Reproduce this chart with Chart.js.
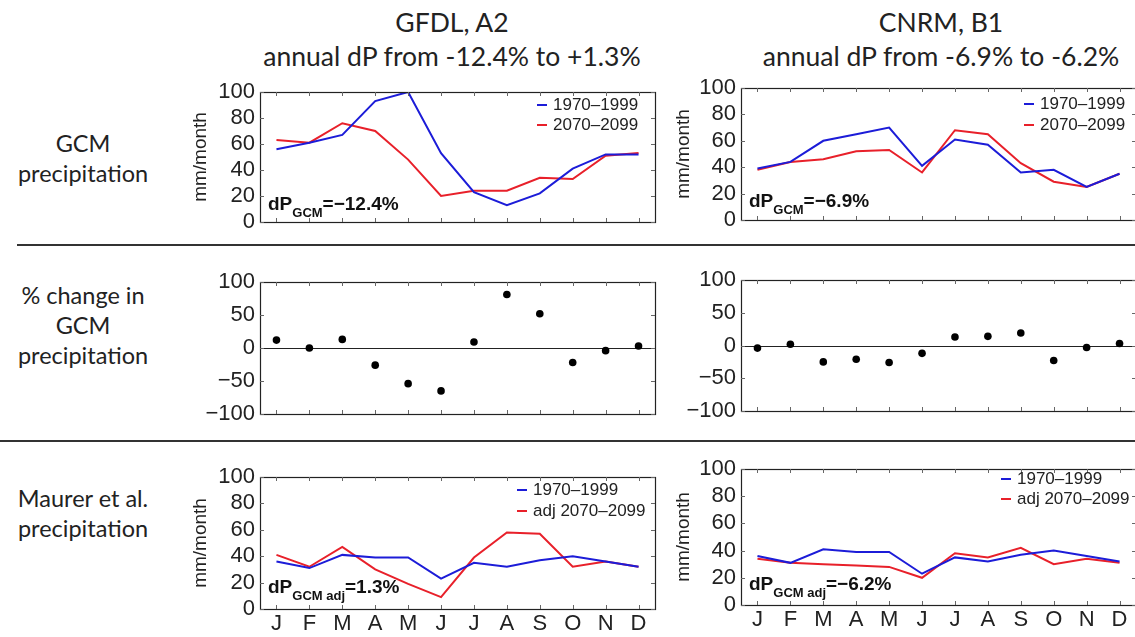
<!DOCTYPE html>
<html>
<head>
<meta charset="utf-8">
<script src="https://cdn.jsdelivr.net/npm/chart.js@4.4.1/dist/chart.umd.min.js"></script>
<style>
  body { margin: 0; width: 1135px; height: 637px; overflow: hidden; background: #fff; position: relative; font-family: Lato, sans-serif; color: #222; }
  .title { position: absolute; top: 5px; width: 480px; text-align: center; font-size: 26.5px; line-height: 34px; white-space: nowrap; }
  .row { position: absolute; left: -7px; width: 180px; text-align: center; font-size: 23.5px; line-height: 30px; white-space: nowrap; }
  .sep { position: absolute; height: 2px; background: #333; }
  canvas { position: absolute; }
</style>
</head>
<body>
<div class="title" style="left:212px">GFDL, A2<br>annual dP from -12.4% to +1.3%</div>
<div class="title" style="left:701px">CNRM, B1<br>annual dP from -6.9% to -6.2%</div>
<div class="row" style="top:128px">GCM<br>precipitation</div>
<div class="row" style="top:280px">% change in<br>GCM<br>precipitation</div>
<div class="row" style="top:483px">Maurer et al.<br>precipitation</div>
<div class="sep" style="left:17px; width:1118px; top:244px"></div>
<div class="sep" style="left:0px; width:1135px; top:440px"></div>

<canvas id="p1"></canvas>
<canvas id="p2"></canvas>
<canvas id="p3"></canvas>
<canvas id="p4"></canvas>
<canvas id="p5"></canvas>
<canvas id="p6"></canvas>

<script>
// === DATA ===
const months = ["J", "F", "M", "A", "M", "J", "J", "A", "S", "O", "N", "D"];
const gfdlHist = [56, 61, 67, 93, 100, 53, 23, 13, 22, 41, 52, 52];
const gfdlFut = [63, 61, 76, 70, 48, 20, 24, 24, 34, 33, 51, 53];
const cnrmHist = [39, 44, 60, 65, 70, 41, 61, 57, 36, 38, 25, 35];
const cnrmFut = [38, 44, 46, 52, 53, 36, 68, 65, 43, 29, 25, 35];
const gfdlChange = [12, 0, 13, -26, -54, -65, 9, 81, 52, -22, -4, 3];
const cnrmChange = [-4, 2, -25, -21, -26, -12, 13, 14, 19, -23, -3, 3];
const maurerHist = [36, 31, 41, 39, 39, 23, 35, 32, 37, 40, 36, 32];
const gfdlAdj = [41, 32, 47, 30, 19, 9, 39, 58, 57, 32, 36, 32];
const cnrmAdj = [34, 31, 30, 29, 28, 20, 38, 35, 42, 30, 34, 31];
const precipTicks = [0, 20, 40, 60, 80, 100];
const changeTicks = [-100, -50, 0, 50, 100];

const BLUE = "#1c1cd8";
const RED = "#e8202a";
const tickFont = { family: "Liberation Sans", size: 22, lineHeight: 1 };

// box, inner tick marks, zero line, legend and dP note
const frame = {
    id: "frame",
    beforeDatasetsDraw(chart, args, opts) {
        if (!opts.zero) return;
        const { ctx, chartArea: a, scales: { y } } = chart;
        const py = Math.round(y.getPixelForValue(0)) + 0.5;
        ctx.save();
        ctx.strokeStyle = "#222";
        ctx.lineWidth = 1.2;
        ctx.beginPath();
        ctx.moveTo(a.left, py);
        ctx.lineTo(a.right, py);
        ctx.stroke();
        ctx.restore();
    },
    afterDraw(chart, args, opts) {
        const { ctx, chartArea: a, scales: { x, y } } = chart;
        ctx.save();
        ctx.strokeStyle = "#222";
        ctx.lineWidth = 1.2;
        ctx.strokeRect(a.left + 0.5, a.top + 0.5, a.width, a.height);
        ctx.strokeStyle = "#666";
        ctx.lineWidth = 1;
        ctx.beginPath();
        x.ticks.forEach((t, i) => {
            const px = Math.round(x.getPixelForTick(i)) + 0.5;
            ctx.moveTo(px, a.bottom); ctx.lineTo(px, a.bottom - 4);
            ctx.moveTo(px, a.top); ctx.lineTo(px, a.top + 4);
        });
        y.ticks.forEach((t, i) => {
            const py = Math.round(y.getPixelForTick(i)) + 0.5;
            ctx.moveTo(a.left, py); ctx.lineTo(a.left + 4, py);
            ctx.moveTo(a.right, py); ctx.lineTo(a.right - 4, py);
        });
        ctx.stroke();

        if (opts.legend) {
            const tx = a.right + opts.legend.x;
            ctx.font = "17px 'Liberation Sans'";
            ctx.textBaseline = "middle";
            ctx.textAlign = "left";
            chart.data.datasets.forEach((ds, i) => {
                const ly = a.top + opts.legend.y[i];
                ctx.strokeStyle = ds.borderColor;
                ctx.lineWidth = 2;
                ctx.beginPath();
                ctx.moveTo(tx - 16, ly);
                ctx.lineTo(tx - 6, ly);
                ctx.stroke();
                ctx.fillStyle = "#222";
                ctx.fillText(ds.label, tx, ly);
            });
        }

        if (opts.note) {
            const n = opts.note;
            let nx = a.left + 8;
            const ny = a.bottom - n.y;
            ctx.fillStyle = "#111";
            ctx.textAlign = "left";
            ctx.textBaseline = "alphabetic";
            ctx.font = "bold 19px 'Liberation Sans'";
            ctx.fillText("dP", nx, ny);
            nx += ctx.measureText("dP").width;
            ctx.font = "bold 13px 'Liberation Sans'";
            ctx.fillText(n.sub, nx, ny + 7);
            nx += ctx.measureText(n.sub).width;
            ctx.font = "bold 19px 'Liberation Sans'";
            ctx.fillText(n.tail, nx, ny);
        }
        ctx.restore();
    },
};

function makePanel(id, plot, opt) {
    const xh = opt.months ? 28 : 14;
    const left = plot.l - 80, top = plot.t - 12;
    const w = plot.r - left + 4, h = plot.b + xh - top;
    const cv = document.getElementById(id);
    cv.width = w; cv.height = h;
    cv.style.left = left + "px";
    cv.style.top = top + "px";

    const datasets = opt.series.map((s) => opt.dots ? {
        label: s.label, data: s.data, showLine: false,
        pointRadius: 3.8, pointBackgroundColor: "#000", pointBorderWidth: 0,
    } : {
        label: s.label, data: s.data, borderColor: s.color, borderWidth: 2,
        pointRadius: 0, tension: 0,
    });

    return new Chart(cv.getContext("2d"), {
        type: "line",
        data: { labels: months, datasets: datasets },
        options: {
            responsive: false,
            animation: false,
            layout: { padding: { top: 12, right: 4, left: 0, bottom: 0 } },
            plugins: {
                legend: { display: false },
                tooltip: { enabled: false },
                frame: { legend: opt.legend, note: opt.note, zero: opt.dots },
            },
            scales: {
                x: {
                    offset: true,
                    grid: { display: false, drawTicks: false },
                    border: { display: false },
                    ticks: { display: !!opt.months, font: tickFont, color: "#222", padding: 4, autoSkip: false, maxRotation: 0 },
                    afterFit: (s) => { s.height = xh; },
                },
                y: {
                    min: opt.ticks[0],
                    max: opt.ticks[opt.ticks.length - 1],
                    afterBuildTicks: (s) => { s.ticks = opt.ticks.map((v) => ({ value: v })); },
                    grid: { display: false, drawTicks: false },
                    border: { display: false },
                    ticks: {
                        font: tickFont, color: "#222", padding: 5,
                        callback: (v) => String(v).replace("-", "\u2212"),
                    },
                    title: {
                        display: !!opt.ytitle, text: opt.ytitle, color: "#222",
                        font: { family: "Liberation Sans", size: 19 },
                        padding: { top: opt.titlePad, bottom: 0 },
                    },
                    afterFit: (s) => { s.width = 80; },
                },
            },
        },
        plugins: [frame],
    });
}

// === PANELS ===
makePanel("p1", { l: 260, r: 655, t: 88, b: 224 }, {
    series: [{ label: "1970\u20131999", data: gfdlHist, color: BLUE }, { label: "2070\u20132099", data: gfdlFut, color: RED }],
    ticks: precipTicks, ytitle: "mm/month", titlePad: 9,
    legend: { x: -102, y: [13, 33] },
    note: { sub: "GCM", tail: "=\u221212.4%", y: 12 },
});
makePanel("p2", { l: 741, r: 1136, t: 84, b: 222 }, {
    series: [{ label: "1970\u20131999", data: cnrmHist, color: BLUE }, { label: "2070\u20132099", data: cnrmFut, color: RED }],
    ticks: precipTicks, ytitle: "mm/month", titlePad: 11,
    legend: { x: -96, y: [16, 37] },
    note: { sub: "GCM", tail: "=\u22126.9%", y: 13 },
});
makePanel("p3", { l: 260, r: 655, t: 278, b: 416 }, {
    series: [{ label: "% change", data: gfdlChange }],
    ticks: changeTicks, dots: true,
});
makePanel("p4", { l: 741, r: 1136, t: 276, b: 413 }, {
    series: [{ label: "% change", data: cnrmChange }],
    ticks: changeTicks, dots: true,
});
makePanel("p5", { l: 260, r: 655, t: 473, b: 609 }, {
    series: [{ label: "1970\u20131999", data: maurerHist, color: BLUE }, { label: "adj 2070\u20132099", data: gfdlAdj, color: RED }],
    ticks: precipTicks, ytitle: "mm/month", titlePad: 9, months: true,
    legend: { x: -122, y: [13, 34] },
    note: { sub: "GCM adj", tail: "=1.3%", y: 16 },
});
makePanel("p6", { l: 741, r: 1136, t: 465, b: 605 }, {
    series: [{ label: "1970\u20131999", data: maurerHist, color: BLUE }, { label: "adj 2070\u20132099", data: cnrmAdj, color: RED }],
    ticks: precipTicks, ytitle: "mm/month", titlePad: 11, months: true,
    legend: { x: -119, y: [10, 30] },
    note: { sub: "GCM adj", tail: "=\u22126.2%", y: 15 },
});
</script>
</body>
</html>
